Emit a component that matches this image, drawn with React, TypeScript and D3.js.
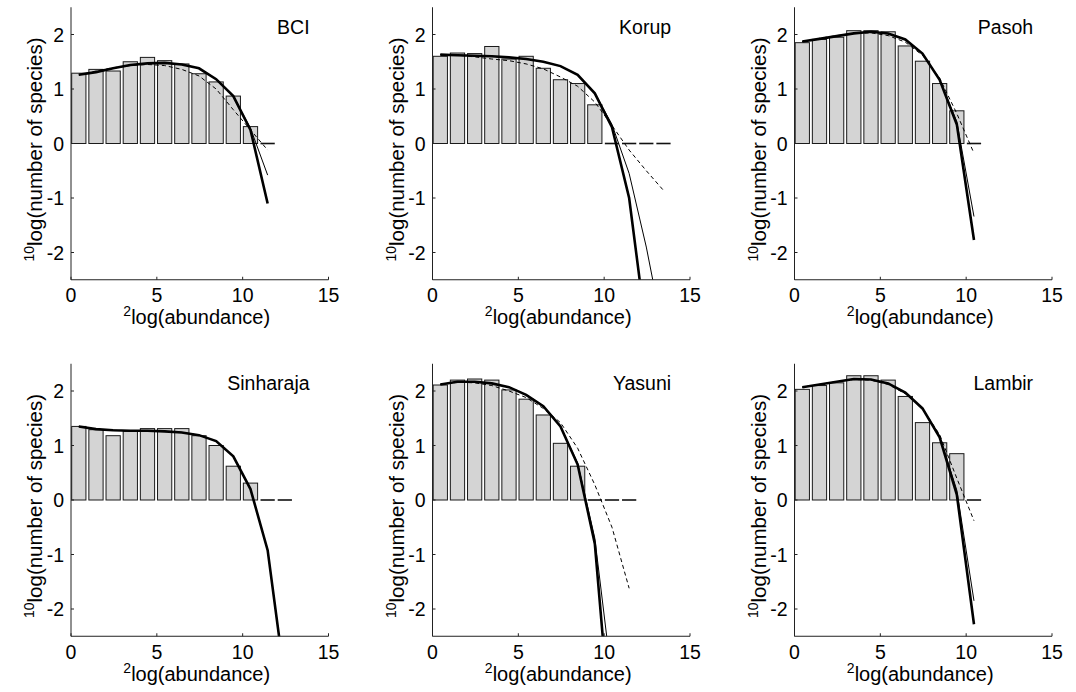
import React from "react";
import * as d3 from "d3";

const SITES = ["BCI", "Korup", "Pasoh", "Sinharaja", "Yasuni", "Lambir"];
const X_TICKS = [0, 5, 10, 15];
const Y_TICKS = [-2, -1, 0, 1, 2];

const BCI_BARS = [1.29, 1.36, 1.33, 1.5, 1.58, 1.52, 1.46, 1.28, 1.13, 0.87, 0.31];
const BCI_EMPTY = [11];
const BCI_THICK = [1.26, 1.31, 1.38, 1.44, 1.47, 1.48, 1.45, 1.38, 1.18, 0.87, 0.25, -1.1];
const BCI_THIN = [1.26, 1.31, 1.38, 1.44, 1.47, 1.48, 1.45, 1.38, 1.18, 0.87, 0.28, -0.58];
const BCI_DASH = [1.26, 1.33, 1.39, 1.43, 1.45, 1.43, 1.36, 1.24, 1.0, 0.62, 0.25, -0.12];

const KORUP_BARS = [1.6, 1.66, 1.65, 1.78, 1.55, 1.6, 1.38, 1.17, 1.1, 0.71];
const KORUP_EMPTY = [10, 11, 12, 13];
const KORUP_THICK = [1.63, 1.62, 1.61, 1.6, 1.58, 1.55, 1.5, 1.42, 1.26, 0.92, 0.3, -1.0, -3.45];
const KORUP_THIN = [1.63, 1.62, 1.61, 1.6, 1.58, 1.55, 1.5, 1.42, 1.26, 0.92, 0.35, -0.55, -1.9, -3.5];
const KORUP_DASH = [1.63, 1.62, 1.59, 1.55, 1.52, 1.46, 1.37, 1.22, 1.05, 0.76, 0.33, -0.12, -0.5, -0.86];

const PASOH_BARS = [1.85, 1.91, 1.95, 2.07, 2.07, 2.05, 1.79, 1.51, 1.1, 0.6];
const PASOH_EMPTY = [10];
const PASOH_THICK = [1.87, 1.92, 1.97, 2.02, 2.05, 2.02, 1.91, 1.65, 1.17, 0.35, -1.77];
const PASOH_THIN = [1.87, 1.92, 1.97, 2.02, 2.05, 2.02, 1.91, 1.65, 1.17, 0.4, -1.34];
const PASOH_DASH = [1.87, 1.93, 1.98, 2.02, 2.03, 1.98, 1.86, 1.62, 1.2, 0.55, -0.18];

const SINHARAJA_BARS = [1.35, 1.29, 1.18, 1.26, 1.31, 1.31, 1.31, 1.18, 1.0, 0.62, 0.31];
const SINHARAJA_EMPTY = [11, 12];
const SINHARAJA_THICK = [1.35, 1.3, 1.28, 1.27, 1.27, 1.26, 1.24, 1.19, 1.08, 0.8, 0.2, -0.92, -3.3];
const SINHARAJA_THIN = [1.35, 1.3, 1.28, 1.27, 1.27, 1.26, 1.24, 1.19, 1.08, 0.8, 0.2, -0.92, -3.3];
const SINHARAJA_DASH = [1.35, 1.3, 1.28, 1.27, 1.27, 1.26, 1.24, 1.19, 1.08, 0.8, 0.2, -0.92, -3.3];

const YASUNI_BARS = [2.11, 2.2, 2.22, 2.2, 2.02, 1.85, 1.56, 1.04, 0.62];
const YASUNI_EMPTY = [9, 10, 11];
const YASUNI_THICK = [2.12, 2.17, 2.17, 2.14, 2.07, 1.93, 1.72, 1.35, 0.65, -0.8, -4.5];
const YASUNI_THIN = [2.12, 2.17, 2.17, 2.14, 2.07, 1.93, 1.72, 1.35, 0.68, -0.7, -3.3];
const YASUNI_DASH = [2.12, 2.16, 2.15, 2.1, 2.0, 1.88, 1.68, 1.42, 0.95, 0.28, -0.5, -1.62];

const LAMBIR_BARS = [2.03, 2.1, 2.15, 2.28, 2.28, 2.2, 1.9, 1.42, 1.05, 0.85];
const LAMBIR_EMPTY = [10];
const LAMBIR_THICK = [2.07, 2.12, 2.17, 2.22, 2.21, 2.14, 1.97, 1.68, 1.15, 0.1, -2.28];
const LAMBIR_THIN = [2.07, 2.12, 2.17, 2.22, 2.21, 2.14, 1.97, 1.68, 1.17, 0.18, -1.85];
const LAMBIR_DASH = [2.07, 2.12, 2.17, 2.21, 2.2, 2.12, 1.95, 1.68, 1.2, 0.4, -0.38];

const BARS = [BCI_BARS, KORUP_BARS, PASOH_BARS, SINHARAJA_BARS, YASUNI_BARS, LAMBIR_BARS];
const EMPTY = [BCI_EMPTY, KORUP_EMPTY, PASOH_EMPTY, SINHARAJA_EMPTY, YASUNI_EMPTY, LAMBIR_EMPTY];
const THICK = [BCI_THICK, KORUP_THICK, PASOH_THICK, SINHARAJA_THICK, YASUNI_THICK, LAMBIR_THICK];
const THIN = [BCI_THIN, KORUP_THIN, PASOH_THIN, SINHARAJA_THIN, YASUNI_THIN, LAMBIR_THIN];
const DASH = [BCI_DASH, KORUP_DASH, PASOH_DASH, SINHARAJA_DASH, YASUNI_DASH, LAMBIR_DASH];

const COL_X = [71, 432.5, 794.5];
const ROW_Y = [7.25, 363.75];
const PW = 257.5;
const PH = 272.5;
const FONT = "'Liberation Sans', Arial, Helvetica, sans-serif";
const BIN_LEFT = 0.04;
const BIN_RIGHT = 0.87;
const BIN_MID = 0.455;

function Panel({ idx }: { idx: number }) {
  const x0 = COL_X[idx % 3];
  const y0 = ROW_Y[Math.floor(idx / 3)];
  const x = d3.scaleLinear().domain([0, 15]).range([x0, x0 + PW]);
  const y = d3.scaleLinear().domain([-2.5, 2.5]).range([y0 + PH, y0]);
  const line = d3
    .line<number>()
    .x((_, i) => x(i + BIN_MID))
    .y((d) => y(d));
  const clipId = `clip${idx}`;
  const bottom = y0 + PH;
  return (
    <g>
      <defs>
        <clipPath id={clipId}>
          <rect x={x0} y={y0} width={PW + 2} height={PH} />
        </clipPath>
      </defs>
      {BARS[idx].map((v, i) => (
        <rect
          key={"b" + i}
          x={x(i + BIN_LEFT)}
          y={y(v)}
          width={x(i + BIN_RIGHT) - x(i + BIN_LEFT)}
          height={y(0) - y(v)}
          fill="#d4d4d4"
          stroke="#1a1a1a"
          strokeWidth={1}
        />
      ))}
      {EMPTY[idx].map((b) => (
        <line
          key={"e" + b}
          x1={x(b + BIN_LEFT)}
          x2={x(b + BIN_RIGHT)}
          y1={y(0)}
          y2={y(0)}
          stroke="#111"
          strokeWidth={1.6}
        />
      ))}
      <g clipPath={`url(#${clipId})`} fill="none">
        <path d={line(DASH[idx]) || ""} stroke="#000" strokeWidth={1} strokeDasharray="4,3" />
        <path d={line(THIN[idx]) || ""} stroke="#000" strokeWidth={1} />
        <path d={line(THICK[idx]) || ""} stroke="#000" strokeWidth={2.6} />
      </g>
      <line x1={x0} x2={x0} y1={y0} y2={bottom} stroke="#222" strokeWidth={1} />
      <line x1={x0} x2={x0 + PW} y1={bottom} y2={bottom} stroke="#222" strokeWidth={1} />
      {X_TICKS.map((t) => (
        <g key={"xt" + t}>
          <line x1={x(t)} x2={x(t)} y1={bottom} y2={bottom - 3} stroke="#222" />
          <text x={x(t)} y={bottom + 22.5} textAnchor="middle" fontSize={19.5} fontFamily={FONT} fill="#000">
            {t}
          </text>
        </g>
      ))}
      {Y_TICKS.map((t) => (
        <g key={"yt" + t}>
          <line x1={x0} x2={x0 + 3} y1={y(t)} y2={y(t)} stroke="#222" />
          <text
            x={x0 - 7}
            y={y(t)}
            dy="0.36em"
            textAnchor="end"
            fontSize={19.5}
            fontFamily={FONT}
            fill="#000"
          >
            {t}
          </text>
        </g>
      ))}
      <text x={x(13.9)} y={y(2) - 1} textAnchor="end" fontSize={19.5} fontFamily={FONT} fill="#000">
        {SITES[idx]}
      </text>
      <text x={x0 + PW / 2 - 3} y={bottom + 44.5} textAnchor="middle" fontSize={20} fontFamily={FONT} fill="#000">
        <tspan fontSize={14} dy={-8}>2</tspan>
        <tspan dy={8}>log(abundance)</tspan>
      </text>
      <text
        transform={`translate(${x0 - 29},${y0 + PH / 2 + 6}) rotate(-90)`}
        textAnchor="middle"
        fontSize={20.5}
        fontFamily={FONT}
        fill="#000"
      >
        <tspan fontSize={14} dy={-8}>10</tspan>
        <tspan dy={8}>log(number of species)</tspan>
      </text>
    </g>
  );
}

export default function App() {
  return (
    <svg
      width={1076}
      height={692}
      style={{ position: "absolute", left: 0, top: 0, background: "#fff" }}
    >
      <rect width={1076} height={692} fill="#fff" />
      {SITES.map((_, i) => (
        <Panel key={i} idx={i} />
      ))}
    </svg>
  );
}
